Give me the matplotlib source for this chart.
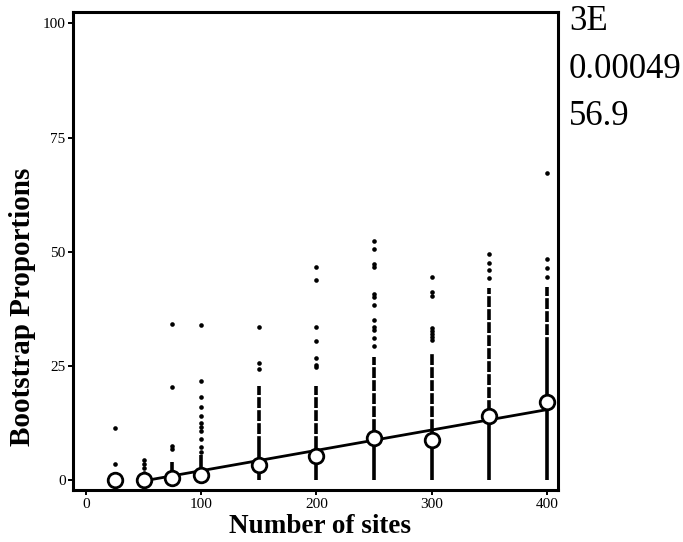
import matplotlib
matplotlib.use("Agg")
import matplotlib.pyplot as plt

# ---- data ----
sites = [25, 50, 75, 100, 150, 200, 250, 300, 350, 400]
mean_bp = [0.0, 0.0, 0.4, 1.1, 3.3, 5.3, 9.3, 8.8, 14.0, 17.1]
# solid (dense) part of each column, from 0 to solid_top
solid_top = [0.0, 1.0, 4.0, 5.5, 7.3, 7.3, 11.0, 11.0, 15.0, 28.8]
# semi-dense part of each column, from solid_top to semi_top
semi_top = [0.0, 0.0, 0.0, 0.0, 20.6, 20.6, 27.0, 27.8, 42.0, 42.3]
# isolated replicate values
sparse = {
    25: [0.0, 3.5, 11.3],
    50: [1.6, 2.6, 3.5, 4.4],
    75: [6.8, 7.5, 20.3, 34.1],
    100: [6.2, 7.3, 9.0, 10.8, 11.7, 12.5, 14.0, 15.9, 18.1, 21.6, 33.9],
    150: [24.2, 25.7, 33.4],
    200: [24.7, 25.2, 26.8, 30.4, 33.6, 43.8, 46.6],
    250: [29.4, 31.2, 32.8, 33.4, 35.1, 38.4, 40.1, 40.7, 46.6, 47.2, 50.5, 52.4],
    300: [30.7, 31.4, 32.0, 32.7, 33.3, 40.3, 41.2, 44.5],
    350: [44.3, 46.0, 47.6, 49.4],
    400: [44.5, 46.4, 48.5, 67.3],
}
fit_x = [50, 400]
fit_y = [-0.2, 15.4]
x_ticks = [0, 100, 200, 300, 400]
y_ticks = [0, 25, 50, 75, 100]
side_text = ["3E", "0.00049", "56.9"]

plt.rcParams['font.family'] = ['Liberation Serif', 'DejaVu Serif']

fig = plt.figure(figsize=(6.83, 5.42), dpi=100)
ax = fig.add_axes([0.1073, 0.0959, 0.817 - 0.1073, 0.977 - 0.0959])

lw_col = 2.6
for s, st, se in zip(sites, solid_top, semi_top):
    if st > 0:
        ax.vlines(s, 0, st, colors='black', linewidth=lw_col, zorder=2)
    if se > st:
        ax.plot([s, s], [st, se], color='black', linewidth=lw_col,
                linestyle=(0, (3, 0.6)), zorder=2)
    vals = sparse[s]
    ax.scatter([s] * len(vals), vals, s=11, color='black', linewidths=0, zorder=2)

ax.plot(fit_x, fit_y, color='black', linewidth=2.0, zorder=3)
ax.plot(sites, mean_bp, linestyle='none', marker='o', markersize=10.5,
        markerfacecolor='white', markeredgecolor='black', markeredgewidth=2.0,
        zorder=4)

ax.set_xlim(-11, 409.7)
ax.set_ylim(-2.2, 102.4)
ax.set_xticks(x_ticks)
ax.set_yticks(y_ticks)
ax.tick_params(direction='out', length=3.6, width=1.4, labelsize=11, pad=2)
for sp in ax.spines.values():
    sp.set_linewidth(2.2)

ax.set_xlabel("Number of sites", fontsize=19.5, fontweight='bold')
ax.xaxis.set_label_coords(0.509, -0.05)
ax.set_ylabel("Bootstrap Proportions", fontsize=21, fontweight='bold',
              va='center')
ax.yaxis.set_label_coords(-0.105, 0.383)

for i, t in enumerate(side_text):
    fig.text(569 / 683, 1 - (30 + 47.5 * i) / 542, t, fontsize=25,
             ha='left', va='baseline')

fig.savefig("out.png", dpi=100)
